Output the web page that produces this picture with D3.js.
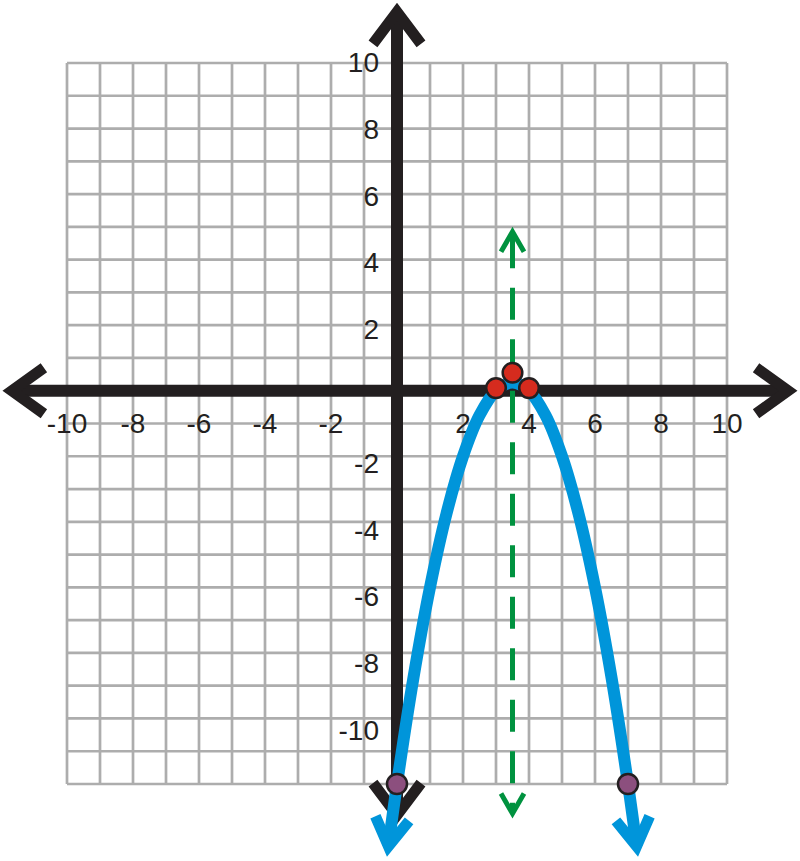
<!DOCTYPE html>
<html>
<head>
<meta charset="utf-8">
<script src="https://cdn.jsdelivr.net/npm/d3@7"></script>
<style>
  body { margin: 0; background: #fff; }
  svg { display: block; }
</style>
</head>
<body>
<script>
// values
const xTickLabels = [-10, -8, -6, -4, -2, 2, 4, 6, 8, 10]
const yTickLabels = [10, 8, 6, 4, 2, -2, -4, -6, -8, -10]

// parabola, points
const curveX = [-0.26, 0, 0.5, 1, 1.5, 2, 2.5, 3, 3.5, 4, 4.5, 5, 5.5, 6, 6.5, 7, 7.26]
const curveY = [-13.9, -12, -8.75, -6, -3.75, -2, -0.75, 0, 0.25, 0, -0.75, -2, -3.75, -6, -8.75, -12, -13.9]

// red points (x-intercepts and vertex) and purple points (y-intercept and its mirror)
const redX = [3, 4, 3.5]
const redY = [0.08, 0.08, 0.55]
const purpleX = [0, 7]
const purpleY = [-12, -12]

// axis of symmetry
const symX = 3.5
const symY = [4.85, -12.9]

// how far the axes run (arrow tips)
const xAxisEnds = [-11.67, 11.85]
const yAxisEnds = [-12.95, 11.56]

const W = 800, H = 861
const BLACK = '#231f20'
const BLUE = '#0095da'
const GREEN = '#00923f'
const RED = '#d52b1e'
const PURPLE = '#8c4f7e'

const svg = d3.select('body').append('svg')
  .attr('width', W)
  .attr('height', H)

const x = d3.scaleLinear().domain([-10, 10]).range([67, 727])
const y = d3.scaleLinear().domain([-12, 10]).range([784, 63])
// the printed y labels drift a little lower than the grid
const yLabel = d3.scaleLinear().domain([10, -10]).range([62, 730])

// grid
const grid = svg.append('g')
grid.selectAll('line.gx')
  .data(d3.range(-10, 11))
  .enter().append('line')
  .attr('x1', d => x(d)).attr('x2', d => x(d))
  .attr('y1', y(10)).attr('y2', y(-12))
grid.selectAll('line.gy')
  .data(d3.range(-12, 11))
  .enter().append('line')
  .attr('y1', d => y(d)).attr('y2', d => y(d))
  .attr('x1', x(-10)).attr('x2', x(10))
grid.selectAll('line')
  .attr('stroke', '#adadad')
  .attr('stroke-width', 2.7)

// open chevron arrow head at (px,py) pointing along (dx,dy)
function chevron(g, px, py, dx, dy, back, half, color, width) {
  const len = Math.hypot(dx, dy)
  const ux = dx / len, uy = dy / len
  const nx = -uy, ny = ux
  const bx = px - ux * back, by = py - uy * back
  g.append('path')
    .attr('d', `M${bx + nx * half},${by + ny * half}L${px},${py}L${bx - nx * half},${by - ny * half}`)
    .attr('fill', 'none')
    .attr('stroke', color)
    .attr('stroke-width', width)
    .attr('stroke-linejoin', 'miter')
    .attr('stroke-miterlimit', 10)
}

// axes
const axes = svg.append('g')
axes.append('line')
  .attr('x1', x(xAxisEnds[0])).attr('x2', x(xAxisEnds[1]))
  .attr('y1', y(0)).attr('y2', y(0))
  .attr('stroke', BLACK).attr('stroke-width', 12)
axes.append('line')
  .attr('x1', x(0)).attr('x2', x(0))
  .attr('y1', y(yAxisEnds[1])).attr('y2', y(yAxisEnds[0]))
  .attr('stroke', BLACK).attr('stroke-width', 12)
chevron(axes, x(xAxisEnds[0]), y(0), -1, 0, 32, 23, BLACK, 11)
chevron(axes, x(xAxisEnds[1]), y(0), 1, 0, 32, 23, BLACK, 11)
chevron(axes, x(0), y(yAxisEnds[1]), 0, -1, 32, 24, BLACK, 11)
chevron(axes, x(0), y(yAxisEnds[0]), 0, 1, 32, 24, BLACK, 11)

// tick labels
const labels = svg.append('g')
  .style('font-family', '"Liberation Sans", Arial, sans-serif')
  .style('font-size', '28px')
  .attr('fill', BLACK)
labels.selectAll('text.xl')
  .data(xTickLabels)
  .enter().append('text')
  .attr('x', d => x(d))
  .attr('y', y(0) + 42)
  .attr('text-anchor', 'middle')
  .text(d => String(d))
labels.selectAll('text.yl')
  .data(yTickLabels)
  .enter().append('text')
  .attr('x', x(0) - 18)
  .attr('y', d => yLabel(d) + 10)
  .attr('text-anchor', 'end')
  .text(d => String(d))

// parabola
const curvePts = curveX.map((v, i) => [v, curveY[i]])
const line = d3.line()
  .x(d => x(d[0]))
  .y(d => y(d[1]))
  .curve(d3.curveCatmullRom.alpha(0.5))
const curveG = svg.append('g')
curveG.append('path')
  .attr('d', line(curvePts))
  .attr('fill', 'none')
  .attr('stroke', BLUE)
  .attr('stroke-width', 12)
const n = curvePts.length
chevron(curveG, x(curvePts[0][0]), y(curvePts[0][1]),
  x(curvePts[0][0]) - x(curvePts[1][0]), y(curvePts[0][1]) - y(curvePts[1][1]), 28, 17, BLUE, 11)
chevron(curveG, x(curvePts[n - 1][0]), y(curvePts[n - 1][1]),
  x(curvePts[n - 1][0]) - x(curvePts[n - 2][0]), y(curvePts[n - 1][1]) - y(curvePts[n - 2][1]), 28, 17, BLUE, 11)

// axis of symmetry
const symG = svg.append('g')
symG.append('line')
  .attr('x1', x(symX)).attr('x2', x(symX))
  .attr('y1', y(symY[0])).attr('y2', y(symY[1]))
  .attr('stroke', GREEN)
  .attr('stroke-width', 5)
  .attr('stroke-dasharray', '32 19.5')
  .attr('stroke-dashoffset', -4.5)
chevron(symG, x(symX), y(symY[0]), 0, -1, 20, 11.5, GREEN, 5)
chevron(symG, x(symX), y(symY[1]), 0, 1, 20, 11.5, GREEN, 5)

// points
svg.append('g').selectAll('circle')
  .data(purpleX.map((v, i) => [v, purpleY[i]]))
  .enter().append('circle')
  .attr('cx', d => x(d[0]))
  .attr('cy', d => y(d[1]))
  .attr('r', 10)
  .attr('fill', PURPLE)
  .attr('stroke', BLACK)
  .attr('stroke-width', 2.5)

svg.append('g').selectAll('circle')
  .data(redX.map((v, i) => [v, redY[i]]))
  .enter().append('circle')
  .attr('cx', d => x(d[0]))
  .attr('cy', d => y(d[1]))
  .attr('r', 9.8)
  .attr('fill', RED)
  .attr('stroke', BLACK)
  .attr('stroke-width', 2.5)
</script>
</body>
</html>
